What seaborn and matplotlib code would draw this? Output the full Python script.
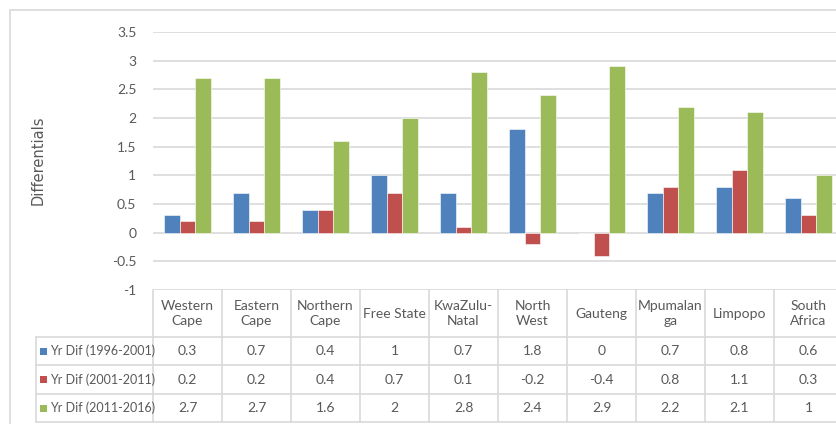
import matplotlib
matplotlib.use("Agg")
import matplotlib.pyplot as plt
import matplotlib.transforms as mtransforms
from matplotlib.patches import Rectangle
import seaborn as sns
import pandas as pd

# Provinces (as printed in the table header) and the three period differentials
categories = ["Western\nCape", "Eastern\nCape", "Northern\nCape", "Free State", "KwaZulu-\nNatal",
              "North\nWest", "Gauteng", "Mpumalan\nga", "Limpopo", "South\nAfrica"]
series = ["Yr Dif (1996-2001)", "Yr Dif (2001-2011)", "Yr Dif (2011-2016)"]
dif_1996_2001 = [0.3, 0.7, 0.4, 1, 0.7, 1.8, 0, 0.7, 0.8, 0.6]
dif_2001_2011 = [0.2, 0.2, 0.4, 0.7, 0.1, -0.2, -0.4, 0.8, 1.1, 0.3]
dif_2011_2016 = [2.7, 2.7, 1.6, 2, 2.8, 2.4, 2.9, 2.2, 2.1, 1]
yticks = [-1, -0.5, 0, 0.5, 1, 1.5, 2, 2.5, 3, 3.5]
colors = ["#4F81BD", "#C0504D", "#9BBB59"]

values = [dif_1996_2001, dif_2001_2011, dif_2011_2016]
df = pd.DataFrame({
    "Province": [c for _ in series for c in categories],
    "Series": [s for s in series for _ in categories],
    "Value": [v for vals in values for v in vals],
})

sns.set_theme(style="white")
plt.rcParams["font.family"] = ["Lato", "DejaVu Sans"]
text_gray = "#595959"
grid_gray = "#d9d9d9"
fs = 10

W, H = 836, 424
fig = plt.figure(figsize=(W / 100, H / 100), dpi=100)

def fx(px):
    return px / W

def fy(py):
    return 1 - py / H

# outer chart border
fig.patches.append(Rectangle((fx(10), fy(440)), 1.2, fy(10) - fy(440), transform=fig.transFigure,
                             fill=False, edgecolor=grid_gray, linewidth=1.2))

ax = fig.add_axes([fx(153), fy(290), fx(690), fy(32) - fy(290)])
sns.barplot(data=df, x="Province", y="Value", hue="Series", palette=colors, order=categories,
            hue_order=series, width=0.667, gap=0, ax=ax, legend=False, saturation=1,
            edgecolor="white", linewidth=0.4)
ax.set_xlim(-0.5, len(categories) - 0.5)
ax.set_ylim(-1, 3.5)
ax.set_yticks(yticks)
ax.set_yticklabels([f"{t:g}" for t in yticks], color=text_gray, fontsize=fs)
ax.tick_params(axis="y", length=0, pad=12)
ax.set_xticks([])
ax.set_xlabel("")
ax.set_ylabel("")
for t in yticks:
    ax.axhline(t, color=grid_gray, linewidth=1.2, zorder=0)
for s in ax.spines.values():
    s.set_visible(False)
ax.set_axisbelow(True)

fig.text(fx(38), fy(160), "Differentials", rotation=90, ha="center", va="center",
         fontsize=10.5, color=text_gray, family="DejaVu Sans")

# data table below the plot
bt = mtransforms.blended_transform_factory(ax.transData, fig.transFigure)
n = len(categories)
row_y = [290, 337, 365, 394, 422]
for i in range(n + 1):
    fig.add_artist(plt.Line2D([i - 0.5, i - 0.5], [fy(290), fy(422)], transform=bt,
                              color=grid_gray, linewidth=1.2))
for y in row_y[1:]:
    fig.add_artist(plt.Line2D([fx(36), 1.2], [fy(y), fy(y)], transform=fig.transFigure,
                              color=grid_gray, linewidth=1.2))
fig.add_artist(plt.Line2D([fx(36), fx(36)], [fy(337), fy(422)], transform=fig.transFigure,
                          color=grid_gray, linewidth=1.2))

for i, c in enumerate(categories):
    fig.text(i, fy((290 + 337) / 2), c, transform=bt, ha="center", va="center",
             fontsize=fs, color=text_gray, linespacing=1.3)

for r, (name, vals, col) in enumerate(zip(series, values, colors)):
    yc = fy((row_y[r + 1] + row_y[r + 2]) / 2)
    fig.patches.append(Rectangle((fx(40), yc - 3.5 / H), 7 / W, 7 / H, transform=fig.transFigure,
                                 facecolor=col, edgecolor="none"))
    fig.text(fx(50), yc, name, ha="left", va="center", fontsize=9, color=text_gray)
    for i, v in enumerate(vals):
        fig.text(i, yc, f"{v:g}", transform=bt, ha="center", va="center",
                 fontsize=fs, color=text_gray)

fig.savefig("out.png", dpi=100, facecolor="white")
